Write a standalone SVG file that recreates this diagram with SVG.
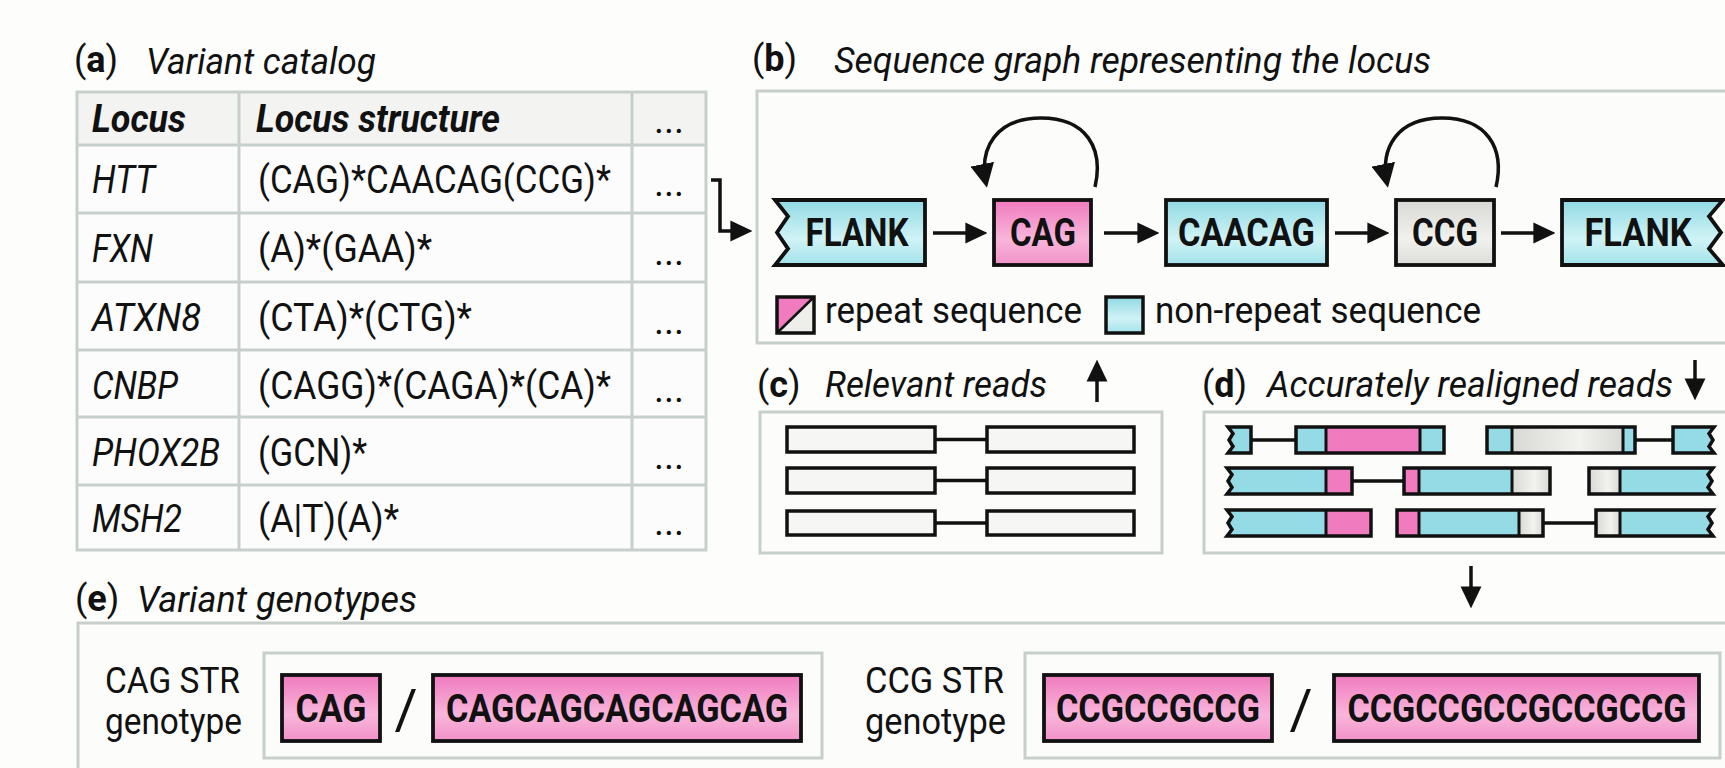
<svg xmlns="http://www.w3.org/2000/svg" xmlns:xlink="http://www.w3.org/1999/xlink" width="1725" height="768" viewBox="0 0 1725 768">
  <style>
    text { font-family: Roboto, "Liberation Sans", sans-serif; fill: #111; font-size: 37px; }
    .ttl { font-size: 36px; }
    .cell { font-size: 38px; }
    .lbl { font-size: 38px; font-weight: bold; }
    .it { font-style: italic; }
    .bd { font-weight: bold; }
    .mid { text-anchor: middle; }
    .panel { fill: #fcfcfb; stroke: #c7cfcb; stroke-width: 3; }
    .grid { stroke: #c7cfcb; stroke-width: 3; fill: none; }
    .node { stroke: #111; stroke-width: 3.8; }
    .edge { fill: none; stroke: #111; stroke-width: 3.5; }
    .ol { fill: none; stroke: #111; stroke-width: 3.5; stroke-linejoin: miter; }
    .div { stroke: #111; stroke-width: 3; }
    .cy { fill: #94dbe5; }
    .pk { fill: #f07cbf; }
    .gy { fill: url(#grayH); }
    .rd { fill: #f6f7f5; stroke: #111; stroke-width: 3.5; }
  </style>
  <defs>
    <linearGradient id="cyanV" x1="0" y1="0" x2="0" y2="1">
      <stop offset="0" stop-color="#90d9e3"/>
      <stop offset="0.6" stop-color="#d0f3f6"/>
      <stop offset="1" stop-color="#a2e2ea"/>
    </linearGradient>
    <linearGradient id="pinkV" x1="0" y1="0" x2="0" y2="1">
      <stop offset="0" stop-color="#f07abf"/>
      <stop offset="0.6" stop-color="#f8b5da"/>
      <stop offset="1" stop-color="#f292c9"/>
    </linearGradient>
    <linearGradient id="grayV" x1="0" y1="0" x2="0" y2="1">
      <stop offset="0" stop-color="#d8d8d4"/>
      <stop offset="0.6" stop-color="#f1f1ee"/>
      <stop offset="1" stop-color="#dcdcd8"/>
    </linearGradient>
    <linearGradient id="grayH" x1="0" y1="0" x2="1" y2="0">
      <stop offset="0" stop-color="#d8d8d4"/>
      <stop offset="0.6" stop-color="#f2f2ef"/>
      <stop offset="1" stop-color="#d9d9d5"/>
    </linearGradient>
    <marker id="ah" markerUnits="userSpaceOnUse" markerWidth="22" markerHeight="22" viewBox="0 0 20 20" refX="16" refY="10" orient="auto">
      <path d="M0,0.5 L20,10 L0,19.5 z" fill="#111"/>
    </marker>
    <marker id="ahl" markerUnits="userSpaceOnUse" markerWidth="24" markerHeight="24" viewBox="0 0 20 20" refX="16" refY="10" orient="auto">
      <path d="M0,0 L20,10 L0,20 z" fill="#111"/>
    </marker>
    <!-- read outlines with torn (zigzag) ends, reused for fill and stroke -->
    <path id="r1c" d="M1228,427 H1251 V453 H1228 L1233,446.5 L1229,440 L1233,433.5 Z"/>
    <path id="r1e" d="M1673,427 H1714 L1709,433.5 L1713,440 L1709,446.5 L1714,453 H1673 Z"/>
    <path id="r2a" d="M1227,468 H1352 V494 H1227 L1232,487.5 L1228,481 L1232,474.5 Z"/>
    <path id="r2c" d="M1589,468 H1713 L1708,474.5 L1712,481 L1708,487.5 L1713,494 H1589 Z"/>
    <path id="r3a" d="M1227,510 H1371 V536 H1227 L1232,529.5 L1228,523 L1232,516.5 Z"/>
    <path id="r3c" d="M1596,510 H1713 L1708,516.5 L1712,523 L1708,529.5 L1713,536 H1596 Z"/>
  </defs>

  <rect x="0" y="0" width="1725" height="768" fill="#fdfdfc"/>

  <!-- (a) variant catalog -->
  <g id="panel-a">
    <text class="ttl" x="74" y="72"><tspan>(</tspan><tspan class="bd">a</tspan><tspan>)</tspan></text>
    <text class="ttl it" x="146" y="74" textLength="230" lengthAdjust="spacingAndGlyphs">Variant catalog</text>
    <g id="catalog-table">
      <rect x="77" y="92" width="629" height="458" fill="#fcfcfc"/>
      <rect x="77" y="92" width="629" height="53" fill="#f3f3f2"/>
      <rect class="grid" x="77" y="92" width="629" height="458"/>
      <path class="grid" d="M239,92 V550 M632,92 V550 M77,145 H706 M77,213 H706 M77,282 H706 M77,350 H706 M77,417 H706 M77,485 H706"/>
      <text class="cell it bd" x="92" y="132" textLength="94" lengthAdjust="spacingAndGlyphs">Locus</text>
      <text class="cell it bd" x="256" y="132" textLength="244" lengthAdjust="spacingAndGlyphs">Locus structure</text>
      <text class="cell mid" x="669" y="133">...</text>

      <text class="cell it" x="92" y="193" textLength="63" lengthAdjust="spacingAndGlyphs">HTT</text>
      <text class="cell" x="258" y="193" textLength="353" lengthAdjust="spacingAndGlyphs">(CAG)*CAACAG(CCG)*</text>
      <text class="cell mid" x="669" y="196">...</text>

      <text class="cell it" x="92" y="262" textLength="61" lengthAdjust="spacingAndGlyphs">FXN</text>
      <text class="cell" x="258" y="262" textLength="174" lengthAdjust="spacingAndGlyphs">(A)*(GAA)*</text>
      <text class="cell mid" x="669" y="265">...</text>

      <text class="cell it" x="92" y="331" textLength="109" lengthAdjust="spacingAndGlyphs">ATXN8</text>
      <text class="cell" x="258" y="331" textLength="214" lengthAdjust="spacingAndGlyphs">(CTA)*(CTG)*</text>
      <text class="cell mid" x="669" y="334">...</text>

      <text class="cell it" x="92" y="399" textLength="86" lengthAdjust="spacingAndGlyphs">CNBP</text>
      <text class="cell" x="258" y="399" textLength="353" lengthAdjust="spacingAndGlyphs">(CAGG)*(CAGA)*(CA)*</text>
      <text class="cell mid" x="669" y="402">...</text>

      <text class="cell it" x="92" y="466" textLength="128" lengthAdjust="spacingAndGlyphs">PHOX2B</text>
      <text class="cell" x="258" y="466" textLength="109" lengthAdjust="spacingAndGlyphs">(GCN)*</text>
      <text class="cell mid" x="669" y="469">...</text>

      <text class="cell it" x="92" y="532" textLength="90" lengthAdjust="spacingAndGlyphs">MSH2</text>
      <text class="cell" x="258" y="532" textLength="141" lengthAdjust="spacingAndGlyphs">(A|T)(A)*</text>
      <text class="cell mid" x="669" y="535">...</text>
    </g>
  </g>

  <!-- (b) sequence graph -->
  <g id="panel-b">
    <text class="ttl" x="752" y="71"><tspan>(</tspan><tspan class="bd">b</tspan><tspan>)</tspan></text>
    <text class="ttl it" x="834" y="73" textLength="597" lengthAdjust="spacingAndGlyphs">Sequence graph representing the locus</text>
    <rect class="panel" x="757" y="91" width="1000" height="252"/>
  </g>

  <g id="node-flank-left">
    <path class="node" fill="url(#cyanV)" d="M775,200 H925 V265 H775 L788,248.75 L777,232.5 L788,216.25 Z"/>
    <text class="lbl mid" x="857" y="246" textLength="103" lengthAdjust="spacingAndGlyphs">FLANK</text>
  </g>
  <g id="node-cag">
    <rect class="node" fill="url(#pinkV)" x="994" y="200" width="97" height="65"/>
    <text class="lbl mid" x="1043" y="246" textLength="66" lengthAdjust="spacingAndGlyphs">CAG</text>
  </g>
  <g id="node-caacag">
    <rect class="node" fill="url(#cyanV)" x="1166" y="200" width="161" height="65"/>
    <text class="lbl mid" x="1246.5" y="246" textLength="137" lengthAdjust="spacingAndGlyphs">CAACAG</text>
  </g>
  <g id="node-ccg">
    <rect class="node" fill="url(#grayV)" x="1396" y="200" width="98" height="65"/>
    <text class="lbl mid" x="1445" y="246" textLength="66" lengthAdjust="spacingAndGlyphs">CCG</text>
  </g>
  <g id="node-flank-right">
    <path class="node" fill="url(#cyanV)" d="M1562,200 H1723 L1709,216.25 L1721,232.5 L1709,248.75 L1723,265 H1562 Z"/>
    <text class="lbl mid" x="1638" y="246" textLength="107" lengthAdjust="spacingAndGlyphs">FLANK</text>
  </g>

  <g id="legend">
    <rect x="777" y="297" width="37" height="36" fill="#eeeeeb"/>
    <path d="M777,297 H814 L777,333 Z" fill="#f07cbf"/>
    <path d="M777,333 L814,297" stroke="#111" stroke-width="2.5"/>
    <rect x="777" y="297" width="37" height="36" fill="none" stroke="#111" stroke-width="3.5"/>
    <text x="825" y="323" textLength="257" lengthAdjust="spacingAndGlyphs">repeat sequence</text>
    <rect x="1106" y="297" width="37" height="36" fill="url(#cyanV)" stroke="#111" stroke-width="3.5"/>
    <text x="1155" y="323" textLength="326" lengthAdjust="spacingAndGlyphs">non-repeat sequence</text>
  </g>

  <!-- (c) relevant reads -->
  <g id="panel-c">
    <text class="ttl" x="757" y="397"><tspan>(</tspan><tspan class="bd">c</tspan><tspan>)</tspan></text>
    <text class="ttl it" x="825" y="397" textLength="222" lengthAdjust="spacingAndGlyphs">Relevant reads</text>
    <rect class="panel" x="760" y="412" width="402" height="141"/>
    <g id="reads-unaligned">
      <path class="edge" d="M935,439.5 H987 M935,480.5 H987 M935,523 H987"/>
      <rect class="rd" x="787" y="427" width="148" height="25"/>
      <rect class="rd" x="987" y="427" width="147" height="25"/>
      <rect class="rd" x="787" y="468" width="148" height="25"/>
      <rect class="rd" x="987" y="468" width="147" height="25"/>
      <rect class="rd" x="787" y="511" width="148" height="24"/>
      <rect class="rd" x="987" y="511" width="147" height="24"/>
    </g>
  </g>

  <!-- (d) realigned reads -->
  <g id="panel-d">
    <text class="ttl" x="1202" y="397"><tspan>(</tspan><tspan class="bd">d</tspan><tspan>)</tspan></text>
    <text class="ttl it" x="1267" y="397" textLength="406" lengthAdjust="spacingAndGlyphs">Accurately realigned reads</text>
    <rect class="panel" x="1204" y="412" width="560" height="141"/>
    <g id="reads-aligned">
      <path class="edge" d="M1251,440 H1296 M1635,440 H1673 M1352,481 H1404 M1543,523 H1596"/>
      <!-- row 1 -->
      <use xlink:href="#r1c" class="cy"/>
      <use xlink:href="#r1c" class="ol"/>
      <rect class="cy" x="1296" y="427" width="30" height="26"/>
      <rect class="pk" x="1326" y="427" width="94" height="26"/>
      <rect class="cy" x="1420" y="427" width="24" height="26"/>
      <rect class="ol" x="1296" y="427" width="148" height="26"/>
      <path class="div" d="M1326,427 V453 M1420,427 V453"/>
      <rect class="cy" x="1487" y="427" width="25" height="26"/>
      <rect class="gy" x="1512" y="427" width="111" height="26"/>
      <rect class="cy" x="1623" y="427" width="12" height="26"/>
      <rect class="ol" x="1487" y="427" width="148" height="26"/>
      <path class="div" d="M1512,427 V453 M1623,427 V453"/>
      <use xlink:href="#r1e" class="cy"/>
      <use xlink:href="#r1e" class="ol"/>
      <!-- row 2 -->
      <use xlink:href="#r2a" class="cy"/>
      <rect class="pk" x="1326" y="468" width="26" height="26"/>
      <use xlink:href="#r2a" class="ol"/>
      <path class="div" d="M1326,468 V494"/>
      <rect class="pk" x="1404" y="468" width="15" height="26"/>
      <rect class="cy" x="1419" y="468" width="93" height="26"/>
      <rect class="gy" x="1512" y="468" width="38" height="26"/>
      <rect class="ol" x="1404" y="468" width="146" height="26"/>
      <path class="div" d="M1419,468 V494 M1512,468 V494"/>
      <use xlink:href="#r2c" class="cy"/>
      <rect class="gy" x="1589" y="468" width="31" height="26"/>
      <use xlink:href="#r2c" class="ol"/>
      <path class="div" d="M1620,468 V494"/>
      <!-- row 3 -->
      <use xlink:href="#r3a" class="cy"/>
      <rect class="pk" x="1326" y="510" width="45" height="26"/>
      <use xlink:href="#r3a" class="ol"/>
      <path class="div" d="M1326,510 V536"/>
      <rect class="pk" x="1397" y="510" width="22" height="26"/>
      <rect class="cy" x="1419" y="510" width="100" height="26"/>
      <rect class="gy" x="1519" y="510" width="24" height="26"/>
      <rect class="ol" x="1397" y="510" width="146" height="26"/>
      <path class="div" d="M1419,510 V536 M1519,510 V536"/>
      <use xlink:href="#r3c" class="cy"/>
      <rect class="gy" x="1596" y="510" width="24" height="26"/>
      <use xlink:href="#r3c" class="ol"/>
      <path class="div" d="M1620,510 V536"/>
    </g>
  </g>

  <!-- (e) variant genotypes -->
  <g id="panel-e">
    <text class="ttl" x="75" y="611"><tspan>(</tspan><tspan class="bd">e</tspan><tspan>)</tspan></text>
    <text class="ttl it" x="137" y="612" textLength="280" lengthAdjust="spacingAndGlyphs">Variant genotypes</text>
    <rect class="panel" x="78" y="623" width="1700" height="200"/>
  </g>

  <g id="genotype-cag">
    <text x="105" y="693" textLength="135" lengthAdjust="spacingAndGlyphs">CAG STR</text>
    <text x="105" y="734" textLength="137" lengthAdjust="spacingAndGlyphs">genotype</text>
    <rect class="panel" x="264" y="653" width="558" height="105"/>
    <rect class="node" fill="url(#pinkV)" x="282" y="675" width="98" height="66"/>
    <text class="lbl mid" x="331" y="722" textLength="71" lengthAdjust="spacingAndGlyphs">CAG</text>
    <text class="mid" x="406" y="729" style="font-size:56px">/</text>
    <rect class="node" fill="url(#pinkV)" x="433" y="675" width="368" height="66"/>
    <text class="lbl mid" x="617" y="722" textLength="342" lengthAdjust="spacingAndGlyphs">CAGCAGCAGCAGCAG</text>
  </g>

  <g id="genotype-ccg">
    <text x="865" y="693" textLength="139" lengthAdjust="spacingAndGlyphs">CCG STR</text>
    <text x="865" y="734" textLength="141" lengthAdjust="spacingAndGlyphs">genotype</text>
    <rect class="panel" x="1025" y="653" width="695" height="105"/>
    <rect class="node" fill="url(#pinkV)" x="1044" y="675" width="228" height="66"/>
    <text class="lbl mid" x="1158" y="722" textLength="204" lengthAdjust="spacingAndGlyphs">CCGCCGCCG</text>
    <text class="mid" x="1301" y="729" style="font-size:56px">/</text>
    <rect class="node" fill="url(#pinkV)" x="1334" y="675" width="365" height="66"/>
    <text class="lbl mid" x="1517" y="722" textLength="339" lengthAdjust="spacingAndGlyphs">CCGCCGCCGCCGCCG</text>
  </g>

  <!-- connectors -->
  <g id="connectors">
    <path class="edge" marker-end="url(#ah)" d="M711,180 H720 V231 H748"/>
    <path class="edge" marker-end="url(#ah)" d="M933,233 H983"/>
    <path class="edge" marker-end="url(#ah)" d="M1104,233 H1155"/>
    <path class="edge" marker-end="url(#ah)" d="M1335,233 H1385"/>
    <path class="edge" marker-end="url(#ah)" d="M1501,233 H1551"/>
    <!-- repeat self-loops -->
    <path class="edge" marker-end="url(#ahl)" d="M1095,187 C1104,148 1086,118 1041,118 C996,118 979,148 986,183"/>
    <path class="edge" marker-end="url(#ahl)" d="M1496,187 C1505,148 1487,118 1442,118 C1397,118 1380,148 1387,183"/>
    <path class="edge" marker-end="url(#ah)" d="M1097,402 V364"/>
    <path class="edge" marker-end="url(#ah)" d="M1695,360 V396"/>
    <path class="edge" marker-end="url(#ah)" d="M1471,566 V604"/>
  </g>
</svg>
